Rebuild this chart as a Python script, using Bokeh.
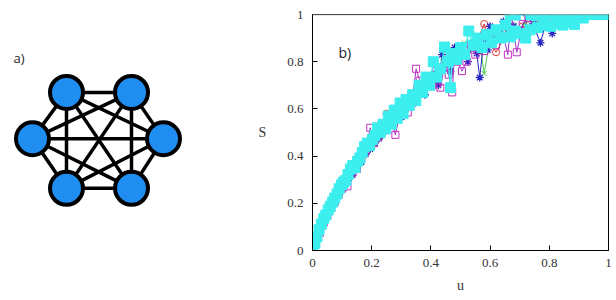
from itertools import combinations
from bokeh.plotting import figure
from bokeh.layouts import row
from bokeh.models import Range1d, Label, FixedTicker, CustomJSTickFormatter, Span
from bokeh.embed import file_html
from bokeh.resources import INLINE

# ---------------- panel a) : complete graph K6 ----------------
node_x = [66, 131, 163, 131, 66, 32]
node_y = [99, 99, 158, 221, 221, 158]

# ---------------- panel b) : S versus u ----------------
red_u = [0.000, 0.025, 0.050, 0.075, 0.100, 0.125, 0.150, 0.175, 0.200, 0.225, 0.250, 0.275,
         0.300, 0.325, 0.350, 0.375, 0.400, 0.425, 0.450, 0.475, 0.500, 0.525, 0.550, 0.580,
         0.600, 0.620, 0.650, 0.680, 0.710, 0.740, 0.770, 0.800, 0.830, 0.860]
red_s = [0.000, 0.080, 0.150, 0.210, 0.265, 0.315, 0.360, 0.405, 0.445, 0.480, 0.580, 0.550,
         0.590, 0.615, 0.660, 0.700, 0.740, 0.760, 0.790, 0.810, 0.830, 0.850, 0.870, 0.960,
         0.880, 0.840, 0.905, 0.930, 0.950, 0.940, 0.965, 0.975, 0.980, 0.990]

green_u = [0.000, 0.020, 0.040, 0.060, 0.080, 0.100, 0.120, 0.140, 0.160, 0.180, 0.200, 0.220,
           0.240, 0.260, 0.280, 0.300, 0.320, 0.340, 0.360, 0.380, 0.400, 0.420, 0.440, 0.460,
           0.480, 0.500, 0.512, 0.530, 0.550, 0.565, 0.580, 0.600, 0.620, 0.640, 0.660, 0.680,
           0.700, 0.720, 0.750, 0.780, 0.810, 0.850, 0.900, 0.970]
green_s = [0.000, 0.065, 0.125, 0.180, 0.228, 0.270, 0.310, 0.350, 0.390, 0.425, 0.458, 0.490,
           0.520, 0.548, 0.575, 0.600, 0.625, 0.650, 0.690, 0.720, 0.745, 0.770, 0.800, 0.830,
           0.810, 0.845, 0.880, 0.855, 0.870, 0.880, 0.750, 0.900, 0.910, 0.925, 0.940, 0.955,
           0.930, 0.965, 0.975, 0.960, 0.985, 0.990, 0.985, 0.990]

blue_u = [0.000, 0.015, 0.030, 0.045, 0.060, 0.075, 0.090, 0.105, 0.120, 0.135, 0.150, 0.165,
          0.180, 0.195, 0.210, 0.225, 0.240, 0.255, 0.270, 0.285, 0.300, 0.318, 0.335, 0.350,
          0.365, 0.380, 0.395, 0.410, 0.425, 0.438, 0.452, 0.466, 0.480, 0.495, 0.510, 0.525,
          0.540, 0.555, 0.565, 0.580, 0.592, 0.600, 0.615, 0.630, 0.645, 0.660, 0.680, 0.700,
          0.726, 0.745, 0.770, 0.790, 0.810, 0.830, 0.850, 0.870, 0.890]
blue_s = [0.000, 0.045, 0.095, 0.135, 0.170, 0.200, 0.235, 0.265, 0.295, 0.320, 0.350, 0.375,
          0.410, 0.430, 0.455, 0.475, 0.505, 0.525, 0.555, 0.580, 0.565, 0.610, 0.625, 0.660,
          0.690, 0.660, 0.720, 0.745, 0.700, 0.830, 0.790, 0.760, 0.860, 0.815, 0.850, 0.800,
          0.880, 0.835, 0.733, 0.905, 0.850, 0.950, 0.890, 0.920, 0.970, 0.910, 0.950, 0.930,
          0.995, 0.960, 0.880, 0.970, 0.920, 0.980, 1.000, 0.985, 0.990]

magenta_u = [0.000, 0.012, 0.025, 0.038, 0.050, 0.063, 0.075, 0.088, 0.100, 0.118, 0.135, 0.150,
             0.165, 0.180, 0.195, 0.208, 0.222, 0.236, 0.250, 0.264, 0.280, 0.294, 0.308, 0.322,
             0.336, 0.350, 0.362, 0.376, 0.390, 0.404, 0.418, 0.432, 0.446, 0.460, 0.472, 0.480,
             0.490, 0.505, 0.520, 0.535, 0.550, 0.565, 0.580, 0.600, 0.620, 0.640, 0.660, 0.672,
             0.690, 0.710, 0.730, 0.750, 0.770, 0.790, 0.810, 0.830, 0.850, 0.870]
magenta_s = [0.000, 0.035, 0.075, 0.118, 0.148, 0.180, 0.205, 0.235, 0.262, 0.272, 0.330, 0.345,
             0.395, 0.420, 0.520, 0.455, 0.480, 0.505, 0.530, 0.560, 0.490, 0.575, 0.600, 0.585,
             0.625, 0.770, 0.720, 0.690, 0.735, 0.700, 0.760, 0.690, 0.780, 0.745, 0.670, 0.840,
             0.800, 0.760, 0.800, 0.870, 0.830, 0.880, 0.845, 0.900, 0.870, 0.935, 0.830, 1.000,
             0.840, 0.960, 0.985, 0.940, 0.975, 0.960, 1.000, 1.000, 1.000, 0.990]

cyan_u = [0.000, 0.008, 0.015, 0.022, 0.030, 0.038, 0.045, 0.053, 0.060, 0.068, 0.075, 0.083,
          0.090, 0.098, 0.105, 0.113, 0.120, 0.128, 0.136, 0.144, 0.152, 0.160, 0.168, 0.176,
          0.185, 0.193, 0.202, 0.211, 0.220, 0.229, 0.238, 0.247, 0.256, 0.266, 0.276, 0.286,
          0.296, 0.306, 0.316, 0.327, 0.338, 0.349, 0.360, 0.372, 0.384, 0.396, 0.408, 0.420,
          0.433, 0.446, 0.459, 0.466, 0.472, 0.486, 0.500, 0.514, 0.528, 0.543, 0.558, 0.573,
          0.588, 0.604, 0.620, 0.636, 0.652, 0.668, 0.685, 0.702, 0.720, 0.735, 0.760, 0.785,
          0.805, 0.825, 0.845, 0.865, 0.885, 0.915]
cyan_s = [0.000, 0.030, 0.058, 0.088, 0.112, 0.135, 0.150, 0.172, 0.188, 0.205, 0.222, 0.240,
          0.262, 0.278, 0.290, 0.298, 0.322, 0.345, 0.360, 0.352, 0.378, 0.392, 0.415, 0.440,
          0.455, 0.445, 0.470, 0.488, 0.520, 0.500, 0.535, 0.515, 0.570, 0.535, 0.595, 0.560,
          0.625, 0.580, 0.640, 0.615, 0.660, 0.635, 0.700, 0.670, 0.735, 0.700, 0.800, 0.735,
          0.770, 0.862, 0.800, 0.690, 0.835, 0.810, 0.860, 0.830, 0.930, 0.870, 0.900, 0.860,
          0.915, 0.880, 0.935, 0.900, 0.955, 0.905, 0.930, 0.918, 0.900, 0.935, 0.945, 0.955,
          0.950, 0.962, 0.955, 0.966, 0.958, 0.985]

cyan_top_u = [0.668, 0.685, 0.738, 0.756, 0.775, 0.800, 0.830, 0.860, 0.890, 0.920, 0.937, 0.959,
              0.980, 1.000]
cyan_top_s = [1.000, 0.998, 1.000, 0.995, 1.000, 1.000, 1.000, 1.000, 1.000, 1.000, 1.000, 1.000,
              1.000, 1.000]

tick_values = [0, 0.2, 0.4, 0.6, 0.8, 1]

# ================= figure a =================
pa = figure(width=250, height=300, x_range=Range1d(0, 250), y_range=Range1d(300, 0),
            output_backend="svg", toolbar_location=None, min_border=0)
pa.axis.visible = False
pa.grid.visible = False
pa.outline_line_color = None
xs, ys = [], []
for i, j in combinations(range(len(node_x)), 2):
    xs.append([node_x[i], node_x[j]])
    ys.append([node_y[i], node_y[j]])
pa.multi_line(xs, ys, line_color="black", line_width=3.5)
pa.scatter(node_x, node_y, size=33, marker="circle", fill_color="#1f8ef0",
           line_color="black", line_width=4)
pa.add_layout(Label(x=13, y=55, text="a)", text_font="Open Sans", text_font_size="13px",
                    text_color="#222222", text_baseline="middle"))

# ================= figure b =================
pb = figure(width=366, height=300, x_range=Range1d(0, 1), y_range=Range1d(0, 1),
            output_backend="svg", toolbar_location=None,
            min_border_left=62, min_border_right=8, min_border_top=14, min_border_bottom=50)
pb.grid.visible = False
pb.outline_line_color = "black"
pb.outline_line_width = 1
pb.add_layout(Span(location=1, dimension="width", line_color="#9a9a9a", line_width=1.5))

fmt = CustomJSTickFormatter(code="return tick.toFixed(1).replace(/\\.0$/, '');")
for ax in (pb.xaxis[0], pb.yaxis[0]):
    ax.ticker = FixedTicker(ticks=tick_values)
    ax.formatter = fmt
    ax.major_tick_in = 5
    ax.major_tick_out = 0
    ax.minor_tick_line_color = None
    ax.major_label_text_font = "Liberation Serif"
    ax.major_label_text_font_size = "13px"
    ax.major_label_text_color = "#333333"
    ax.axis_label_text_font = "Liberation Serif"
    ax.axis_label_text_font_size = "14px"
    ax.axis_label_text_font_style = "normal"
    ax.axis_label_text_color = "#333333"
    ax.axis_line_color = "black"
    ax.major_tick_line_color = "black"
pb.xaxis.axis_label = "u"
pb.xaxis.major_label_standoff = 8
pb.xaxis.axis_label_standoff = 8
pb.yaxis.axis_label = "S"
pb.yaxis.axis_label_orientation = "horizontal"
pb.yaxis.major_label_standoff = 9
pb.yaxis.axis_label_standoff = 18

cyan = "#3deeee"
pb.line(red_u, red_s, line_color="#e03838", line_width=1)
pb.scatter(red_u, red_s, marker="circle", size=7, fill_color=None, line_color="#e03838")
pb.line(green_u, green_s, line_color="#50c850", line_width=1)
pb.scatter(green_u, green_s, marker="x", size=7, line_color="#50c850")
pb.line(blue_u, blue_s, line_color="#2626c0", line_width=1)
pb.scatter(blue_u, blue_s, marker="asterisk", size=8, line_color="#2626c0", line_width=1.3)
pb.line(magenta_u, magenta_s, line_color="#a030c8", line_width=1)
pb.scatter(magenta_u, magenta_s, marker="square", size=7, fill_color=None, line_color="#c030c0")
pb.line(cyan_u, cyan_s, line_color=cyan, line_width=1.5)
pb.scatter(cyan_u, cyan_s, marker="square", size=10, fill_color=cyan, line_color=cyan)
pb.line(cyan_top_u, cyan_top_s, line_color=cyan, line_width=1.5)
pb.scatter(cyan_top_u, cyan_top_s, marker="square", size=10, fill_color=cyan, line_color=cyan)

pb.add_layout(Label(x=0.088, y=0.84, text="b)", text_font="Open Sans", text_font_size="14px",
                    text_color="#222222", text_baseline="middle"))

layout = row(pa, pb)
open("out.html", "w").write(file_html(layout, INLINE))
